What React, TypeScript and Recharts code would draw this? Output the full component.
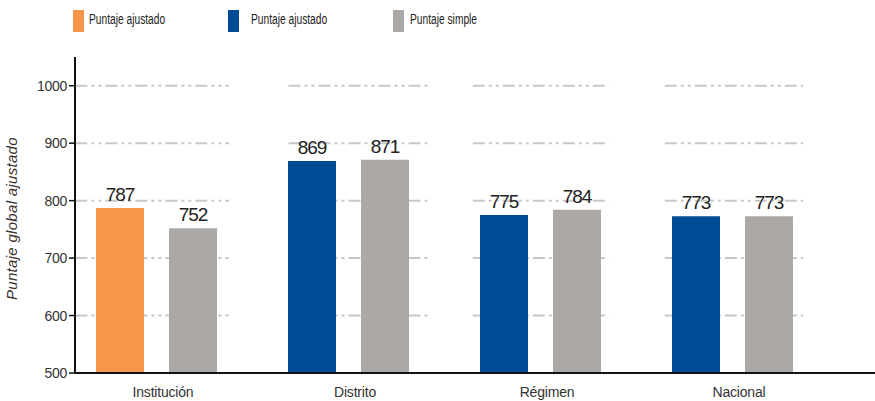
import React from "react";
import { BarChart, Bar, XAxis, YAxis, Cell, LabelList, ReferenceLine, Legend } from "recharts";

const categories = ["Institución", "Distrito", "Régimen", "Nacional"];
const ajustado = [787, 869, 775, 773];
const simple = [752, 871, 784, 773];
const yTicks = [500, 600, 700, 800, 900, 1000];
const legendLabels = ["Puntaje ajustado", "Puntaje ajustado", "Puntaje simple"];

const ORANGE = "#F5964B";
const BLUE = "#004B96";
const GRAY = "#ABA8A6";
const legendColors = [ORANGE, BLUE, GRAY];
const ajustadoColors = [ORANGE, BLUE, BLUE, BLUE];

const data = categories.map((c, i) => ({ cat: c, idx: i, ajustado: ajustado[i], simple: simple[i] }));

// gridline segment extents per category (relative to category centre, in band units)
const gridStart = [-0.42, -0.31, -0.35, -0.35];
const gridEnd = [0.38, 0.43, 0.36, 0.37];

const FONT = "'Liberation Sans', Arial, sans-serif";

const legendPos = [
  { left: 73, text: 89 },
  { left: 228, text: 251 },
  { left: 393, text: 410 },
];

const LegendContent = () => (
  <div style={{ position: "relative", width: 875, height: 40 }}>
    {legendLabels.map((l, i) => (
      <React.Fragment key={i}>
        <div style={{ position: "absolute", left: legendPos[i].left, top: 10, width: 11, height: 22, background: legendColors[i] }} />
        <span
          style={{
            position: "absolute",
            left: legendPos[i].text,
            top: 11,
            fontSize: 14,
            lineHeight: "16px",
            fontFamily: FONT,
            color: "#222",
            whiteSpace: "nowrap",
            transform: "scaleX(0.73)",
            transformOrigin: "left center",
          }}
        >
          {l}
        </span>
      </React.Fragment>
    ))}
  </div>
);

const labelStyle = { fill: "#222", fontSize: 19, fontFamily: FONT, letterSpacing: -1 };

export default function App() {
  return (
    <div style={{ position: "absolute", left: 0, top: 0, background: "#fff" }}>
      <BarChart width={875} height={401} data={data} margin={{ top: 17, right: 0, bottom: 4, left: 0 }} barSize={48} barGap={25}>
        <Legend verticalAlign="top" align="left" content={<LegendContent />} wrapperStyle={{ position: "absolute", top: 0, left: 0, width: 875 }} />
        <XAxis
          dataKey="cat"
          xAxisId="cat"
          height={24}
          padding={{ left: -15, right: 47 }}
          tickLine={false}
          axisLine={{ stroke: "#111", strokeWidth: 2 }}
          tick={{ fill: "#333", fontSize: 14, fontFamily: FONT, dx: 7, letterSpacing: -0.2 }}
          tickMargin={8}
          interval={0}
        />
        <XAxis xAxisId="num" dataKey="idx" type="number" domain={[-0.5, 3.5]} hide padding={{ left: -15, right: 47 }} allowDataOverflow />
        <YAxis
          yAxisId="y"
          width={75}
          domain={[500, 1050]}
          ticks={yTicks}
          allowDataOverflow
          tickLine={{ stroke: "#111", strokeWidth: 1.5 }}
          tickSize={6}
          axisLine={{ stroke: "#111", strokeWidth: 2 }}
          tick={{ fill: "#333", fontSize: 14, fontFamily: FONT, letterSpacing: -0.3 }}
          tickMargin={2}
          label={{ value: "Puntaje global ajustado", angle: -90, position: "insideLeft", offset: 12, dy: 85, style: { fill: "#3a3030", fontSize: 15, fontStyle: "italic", fontFamily: FONT, letterSpacing: 0.3 } }}
        />
        {categories.map((c, i) =>
          yTicks.filter((t) => t > 500).map((t) => (
            <ReferenceLine
              key={c + t}
              xAxisId="num"
              yAxisId="y"
              zIndex={-50}
              segment={[{ x: i + gridStart[i], y: t }, { x: i + gridEnd[i], y: t }]}
              stroke="#C8C8C8"
              strokeWidth={2}
              strokeDasharray="12 4 3 4 3 4"
            />
          ))
        )}
        <Bar dataKey="ajustado" xAxisId="cat" yAxisId="y" isAnimationActive={false}>
          {data.map((d, i) => (
            <Cell key={i} fill={ajustadoColors[i]} />
          ))}
          <LabelList dataKey="ajustado" position="top" offset={7} style={labelStyle} />
        </Bar>
        <Bar dataKey="simple" xAxisId="cat" yAxisId="y" fill={GRAY} isAnimationActive={false}>
          <LabelList dataKey="simple" position="top" offset={7} style={labelStyle} />
        </Bar>
      </BarChart>
    </div>
  );
}
